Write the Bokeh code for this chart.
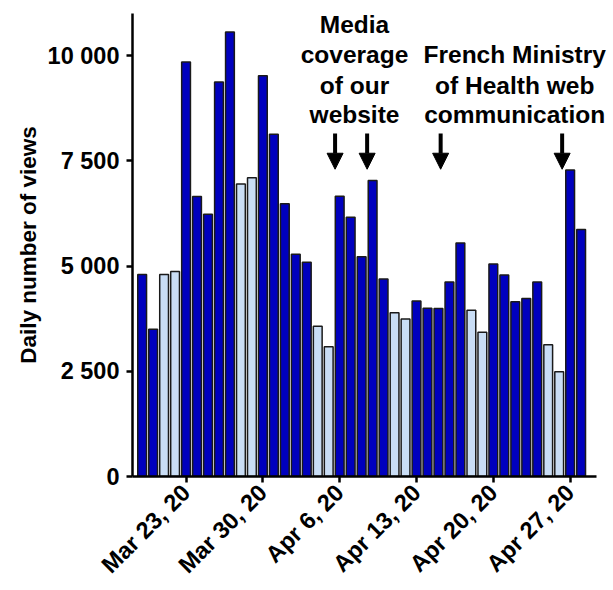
import datetime as dt
from bokeh.plotting import figure
from bokeh.models import FixedTicker, Arrow, NormalHead, Label, Range1d, ColumnDataSource
from bokeh.embed import file_html
from bokeh.resources import INLINE

start = dt.date(2020, 3, 19)
views = [4800, 3500, 4800, 4870, 9850, 6650, 6230, 9370, 10560, 6950, 7100,
         9520, 8130, 6480, 5280, 5090, 3570, 3080, 6660, 6160, 5220, 7030,
         4690, 3890, 3740, 4170, 4000, 3990, 4620, 5550, 3950, 3430, 5050,
         4790, 4150, 4230, 4620, 3130, 2490, 7280, 5870]
dates = [start + dt.timedelta(days=i) for i in range(len(views))]
weekend = [d.weekday() >= 5 for d in dates]

tick_dates = [dt.date(2020, 3, 23), dt.date(2020, 3, 30), dt.date(2020, 4, 6),
              dt.date(2020, 4, 13), dt.date(2020, 4, 20), dt.date(2020, 4, 27)]
tick_labels = ["Mar 23, 20", "Mar 30, 20", "Apr 6, 20", "Apr 13, 20", "Apr 20, 20", "Apr 27, 20"]
y_ticks = [0, 2500, 5000, 7500, 10000]
y_tick_labels = ["0", "2 500", "5 000", "7 500", "10 000"]

media_lines = ["Media", "coverage", "of our", "website"]
ministry_lines = ["French Ministry", "of Health web", "communication"]
media_arrows = [dt.date(2020, 4, 5), dt.date(2020, 4, 8)]
ministry_arrows = [dt.date(2020, 4, 15), dt.date(2020, 4, 26)]

DARK = "#0000BE"
LIGHT = "#C9DDF5"

xs = [(d - start).days for d in dates]
colors = [LIGHT if w else DARK for w in weekend]
src = ColumnDataSource(dict(x=xs, top=views, color=colors))

X0, X1 = -0.88, 41.4
p = figure(width=613, height=590, output_backend="svg", toolbar_location=None,
           x_range=Range1d(X0, 42.95), y_range=Range1d(0, 11000),
           min_border_left=132, min_border_right=0, min_border_top=13,
           min_border_bottom=114)
p.outline_line_color = None
p.xgrid.visible = False
p.ygrid.visible = False

p.vbar(x="x", top="top", width=0.8, bottom=0, fill_color="color",
       line_color="#1a1a1a", line_width=1.5, source=src)

FONT = "Liberation Sans"
tick_x = [(d - start).days for d in tick_dates]
p.xaxis.ticker = FixedTicker(ticks=tick_x)
p.xaxis.major_label_overrides = {t: l for t, l in zip(tick_x, tick_labels)}
p.xaxis.major_label_orientation = 0.785398
p.xaxis.minor_tick_line_color = None
p.xaxis.bounds = (X0, X1)
p.yaxis.ticker = FixedTicker(ticks=y_ticks)
p.yaxis.major_label_overrides = {t: l for t, l in zip(y_ticks, y_tick_labels)}
p.yaxis.minor_tick_line_color = None
for ax in (p.xaxis, p.yaxis):
    ax.axis_line_width = 2.5
    ax.axis_line_color = "black"
    ax.major_tick_line_width = 2.5
    ax.major_tick_line_color = "black"
    ax.major_tick_out = 6
    ax.major_tick_in = 0
    ax.major_label_text_font = FONT
    ax.major_label_text_font_style = "bold"
    ax.major_label_text_color = "black"
p.yaxis.major_label_text_font_size = "23.5px"
p.xaxis.major_label_text_font_size = "23.5px"
p.yaxis.major_label_standoff = 7
p.xaxis.major_label_standoff = 6
p.yaxis.axis_label = "Daily number of views"
p.yaxis.axis_label_text_font = FONT
p.yaxis.axis_label_text_font_style = "bold"
p.yaxis.axis_label_text_font_size = "22.5px"
p.yaxis.axis_label_text_color = "black"
p.yaxis.axis_label_standoff = 4

baselines = [10750, 10020, 9297, 8600]
media_x = 19.35
ann_size = "24.5px"
for txt, yb in zip(media_lines, baselines):
    p.add_layout(Label(x=media_x, y=yb, text=txt, text_align="center",
                       text_baseline="alphabetic", text_font=FONT,
                       text_font_style="bold", text_font_size=ann_size,
                       text_color="black"))
ministry_x = 33.95
for txt, yb in zip(ministry_lines, baselines[1:]):
    p.add_layout(Label(x=ministry_x, y=yb, text=txt, text_align="center",
                       text_baseline="alphabetic", text_font=FONT,
                       text_font_style="bold", text_font_size=ann_size,
                       text_color="black"))

arrow_offsets = [0.58, 0.5, 0.2, 0.27]
for d, off in zip(media_arrows + ministry_arrows, arrow_offsets):
    ax_ = (d - start).days + off
    p.add_layout(Arrow(end=NormalHead(size=16, fill_color="black", line_color="black"),
                       x_start=ax_, y_start=8150, x_end=ax_, y_end=7300,
                       line_width=4, line_color="black"))

open("out.html", "w").write(file_html(p, INLINE))
